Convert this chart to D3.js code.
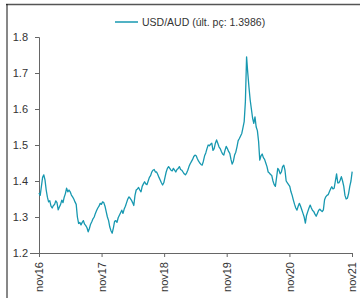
<!DOCTYPE html>
<html><head><meta charset="utf-8">
<script src="https://cdn.jsdelivr.net/npm/d3@7"></script>
<style>
html,body{margin:0;padding:0;background:#fff;}
svg{display:block;font-family:"Liberation Sans",Arial,sans-serif;}
</style></head>
<body><svg id="c" width="360" height="298"></svg>
<script>
// ---- data ----
const seriesName = "USD/AUD (últ. pç: 1.3986)";
const startDate = "2016-11-01";      // first weekly observation
const stepDays = 7;                  // weekly observations
const values = [
1.367,1.36,1.385,1.41,1.417,1.403,1.375,1.355,1.342,1.345,
1.33,1.325,1.332,1.335,1.345,1.34,1.32,1.328,1.335,1.347,
1.34,1.355,1.365,1.38,1.37,1.375,1.37,1.361,1.356,1.35,
1.342,1.335,1.3,1.282,1.285,1.278,1.285,1.29,1.28,1.276,
1.27,1.259,1.268,1.28,1.287,1.295,1.3,1.31,1.318,1.325,
1.33,1.338,1.335,1.342,1.34,1.33,1.315,1.3,1.29,1.272,
1.262,1.255,1.27,1.288,1.29,1.285,1.298,1.305,1.312,1.319,
1.31,1.322,1.33,1.34,1.35,1.356,1.352,1.347,1.34,1.332,
1.36,1.375,1.378,1.382,1.375,1.37,1.385,1.392,1.398,1.392,
1.39,1.4,1.41,1.415,1.425,1.43,1.432,1.425,1.425,1.418,
1.41,1.403,1.395,1.389,1.395,1.41,1.425,1.435,1.44,1.435,
1.43,1.428,1.435,1.43,1.425,1.432,1.435,1.44,1.432,1.43,
1.425,1.42,1.417,1.422,1.43,1.44,1.448,1.454,1.46,1.468,
1.472,1.47,1.462,1.455,1.45,1.446,1.444,1.455,1.47,1.478,
1.49,1.5,1.498,1.502,1.505,1.485,1.49,1.505,1.514,1.505,
1.495,1.49,1.482,1.475,1.472,1.485,1.496,1.49,1.482,1.477,
1.46,1.447,1.455,1.472,1.48,1.495,1.512,1.518,1.525,1.532,
1.548,1.565,1.62,1.745,1.7,1.66,1.625,1.6,1.575,1.56,
1.578,1.55,1.54,1.51,1.458,1.47,1.475,1.465,1.46,1.45,
1.44,1.425,1.422,1.418,1.415,1.4,1.39,1.385,1.41,1.435,
1.43,1.42,1.425,1.44,1.444,1.43,1.4,1.395,1.39,1.385,
1.37,1.36,1.347,1.335,1.325,1.319,1.33,1.338,1.33,1.32,
1.31,1.3,1.283,1.305,1.315,1.325,1.333,1.325,1.318,1.315,
1.308,1.302,1.31,1.318,1.322,1.318,1.315,1.32,1.348,1.356,
1.36,1.362,1.37,1.378,1.384,1.378,1.38,1.4,1.42,1.395,
1.395,1.402,1.412,1.4,1.385,1.36,1.35,1.352,1.365,1.385,
1.4,1.426
];
const yTicks = [1.2,1.3,1.4,1.5,1.6,1.7,1.8];
const xTickDates = ["2016-11-01","2017-11-01","2018-11-01","2019-11-01","2020-11-01","2021-11-01"];
const xTickLabels = ["nov16","nov17","nov18","nov19","nov20","nov21"];

// ---- build ----
(function(){
const parse = d3.utcParse("%Y-%m-%d");
const t0 = parse(startDate);
const data = values.map((v,i)=>({date:d3.utcDay.offset(t0,i*stepDays), value:v}));

const svg = d3.select("#c");
const mL=39, mR=352, mT=37, mB=253;
const x = d3.scaleUtc().domain([parse(xTickDates[0]), parse(xTickDates[xTickDates.length-1])]).range([mL,mR]);
const y = d3.scaleLinear().domain([1.2,1.8]).range([mB,mT]);

// frame
svg.append("line").attr("x1",6).attr("x2",360).attr("y1",4.5).attr("y2",4.5).attr("stroke","#555").attr("stroke-width",1.5);
svg.append("line").attr("x1",7).attr("x2",7).attr("y1",4).attr("y2",298).attr("stroke","#111").attr("stroke-width",1);

// y axis
const yAxis = svg.append("g").attr("transform",`translate(${mL},0)`)
  .call(d3.axisLeft(y).tickValues(yTicks).tickFormat(d3.format(".1f")).tickSize(4).tickPadding(7));
yAxis.select(".domain").attr("stroke","#666").attr("d",`M-4,${mT+0.5}H0.5V${mB}`);
yAxis.selectAll(".tick line").attr("stroke","#666");
yAxis.selectAll(".tick text").attr("fill","#333").style("font-size","11px").style("font-family","Liberation Sans, Arial, sans-serif");

// x axis
const xAxis = svg.append("g").attr("transform",`translate(0,${mB})`)
  .call(d3.axisBottom(x).tickValues(xTickDates.map(parse)).tickFormat((d,i)=>xTickLabels[i]).tickSize(4).tickPadding(4));
xAxis.select(".domain").attr("stroke","#666").attr("d",`M${mL-9},0.5H${mR}`);
xAxis.selectAll(".tick line").attr("stroke","#666");
xAxis.selectAll(".tick text").attr("fill","#333").style("font-size","11px")
  .style("font-family","Liberation Sans, Arial, sans-serif")
  .attr("transform","rotate(-90)").attr("text-anchor","end").attr("dy","0.35em").attr("x",-9).attr("y",0);

// line
svg.append("path").datum(data)
  .attr("fill","none").attr("stroke","#1798b0").attr("stroke-width",1.3).attr("stroke-linejoin","round")
  .attr("d", d3.line().x(d=>x(d.date)).y(d=>y(d.value)));

// legend
const lg = svg.append("g").attr("transform","translate(115,22)");
lg.append("line").attr("x1",0).attr("x2",23).attr("y1",0).attr("y2",0).attr("stroke","#1798b0").attr("stroke-width",1.5);
lg.append("text").attr("x",27).attr("y",0).attr("dy","0.35em").attr("fill","#333").style("font-size","10.5px").text(seriesName);
})();
</script>
</body></html>
